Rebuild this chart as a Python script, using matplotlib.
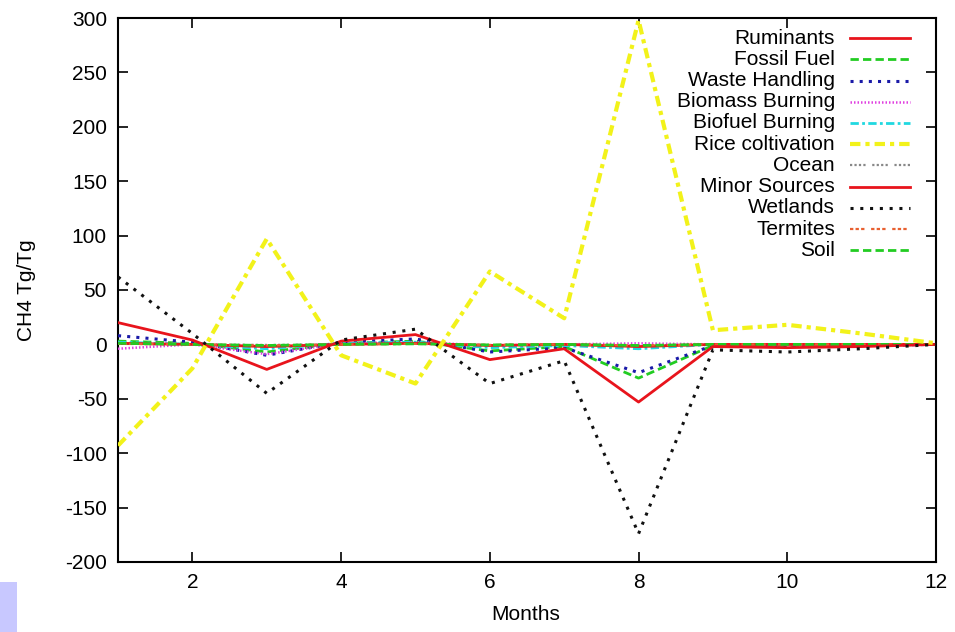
import matplotlib
matplotlib.use('Agg')
import matplotlib.pyplot as plt
from matplotlib.lines import Line2D
from matplotlib.patches import Rectangle
import numpy as np

plt.rcParams['font.family'] = ['Liberation Sans', 'DejaVu Sans']
plt.rcParams['axes.unicode_minus'] = False

# data
months = [1, 2, 3, 4, 5, 6, 7, 8, 9, 10, 11, 12]
ruminants = [20, 4, -23, 3, 9, -14, -4, -53, -2, -3, -2, 0]
fossil_fuel = [3, 1, -7, 1, 3, -6, -2, -31, -1, -1, -1, 0]
waste_handling = [8, 2, -10, 2, 5, -7, -3, -26, -1, -1, -1, 0]
biomass_burning = [-4, 0, -9, 1, 2, -1, 0, 1, 0, 0, 0, 0]
biofuel_burning = [2, 0, -4, 1, 2, -3, -1, -4, 0, 0, 0, 0]
rice = [-93, -22, 97, -10, -36, 67, 24, 298, 13, 18, 10, 1]
ocean = [0.5, 0, -0.5, 0, 0.5, -0.5, 0, -1, 0, 0, 0, 0]
minor_sources = [1, 0, -2, 0, 1, -1, 0, -2, 0, 0, 0, 0]
wetlands = [62, 10, -45, 4, 14, -36, -15, -174, -5, -7, -4, 0]
termites = [0.5, 0, -1, 0, 0.5, -0.5, 0, -1, 0, 0, 0, 0]
soil = [1, 0, -1, 0, 0.5, -0.5, 0, -1, 0, 0, 0, 0]

labels = ['Ruminants', 'Fossil Fuel', 'Waste Handling', 'Biomass Burning',
          'Biofuel Burning', 'Rice coltivation', 'Ocean', 'Minor Sources',
          'Wetlands', 'Termites', 'Soil']
series = [ruminants, fossil_fuel, waste_handling, biomass_burning,
          biofuel_burning, rice, ocean, minor_sources, wetlands, termites, soil]

# gnuplot-like styles: colour, width, dash pattern
styles = [
    ('#e8141c', 2.0, None),
    ('#22cc22', 2.0, (3, 1.5)),
    ('#1a1aa8', 2.2, (1, 2)),
    ('#e040e0', 1.8, (0.6, 0.8)),
    ('#20d8e0', 2.0, (3, 1.2, 1, 1.2)),
    ('#f2f21a', 3.0, (2.5, 1.2, 1, 1.2)),
    ('#888888', 1.6, (1, 1, 1, 1, 1, 1, 1, 3)),
    ('#e8141c', 2.0, None),
    ('#111111', 2.2, (1, 2.2)),
    ('#e86030', 1.6, (1.5, 1, 1.5, 1, 1.5, 3)),
    ('#22cc22', 2.0, (3, 1.5)),
]

fig = plt.figure(figsize=(9.55, 6.32), dpi=100)
ax = fig.add_axes([0.1236, 0.1108, 0.8565, 0.8607])

order = [1, 2, 3, 4, 6, 7, 9, 10, 0, 8, 5]
for i in order:
    c, lw, d = styles[i]
    ln, = ax.plot(months, series[i], color=c, lw=lw, zorder=3 + (i == 5))
    if d:
        ln.set_dashes(d)

ax.set_xlim(1, 12)
ax.set_ylim(-200, 300)
ax.set_xticks([2, 4, 6, 8, 10, 12])
ax.set_yticks(np.arange(-200, 301, 50))
ax.tick_params(direction='in', length=7, width=1.2, top=True, right=True,
               labelsize=15, pad=8)
for s in ax.spines.values():
    s.set_linewidth(1.5)

# legend drawn by hand, gnuplot style (labels right aligned, samples on the right)
y0 = 0.963
dy = 0.039
for k, lab in enumerate(labels):
    c, lw, d = styles[k]
    yy = y0 - k * dy
    ax.text(0.8765, yy, lab, transform=ax.transAxes, ha='right', va='center',
            fontsize=15, zorder=6)
    ln = Line2D([0.895, 0.968], [yy, yy], transform=ax.transAxes, color=c,
                lw=lw, zorder=6)
    if d:
        ln.set_dashes(d)
    ax.add_line(ln)

fig.text(0.028, 0.541, 'CH4 Tg/Tg', fontsize=15, ha='center', va='center',
         rotation=90)
fig.text(0.55, 0.027, 'Months', fontsize=15, ha='center', va='center')

fig.patches.append(Rectangle((0, 0), 0.018, 0.079, transform=fig.transFigure,
                             facecolor='#c8c8ff', edgecolor='none'))

fig.savefig('out.png', dpi=100)
